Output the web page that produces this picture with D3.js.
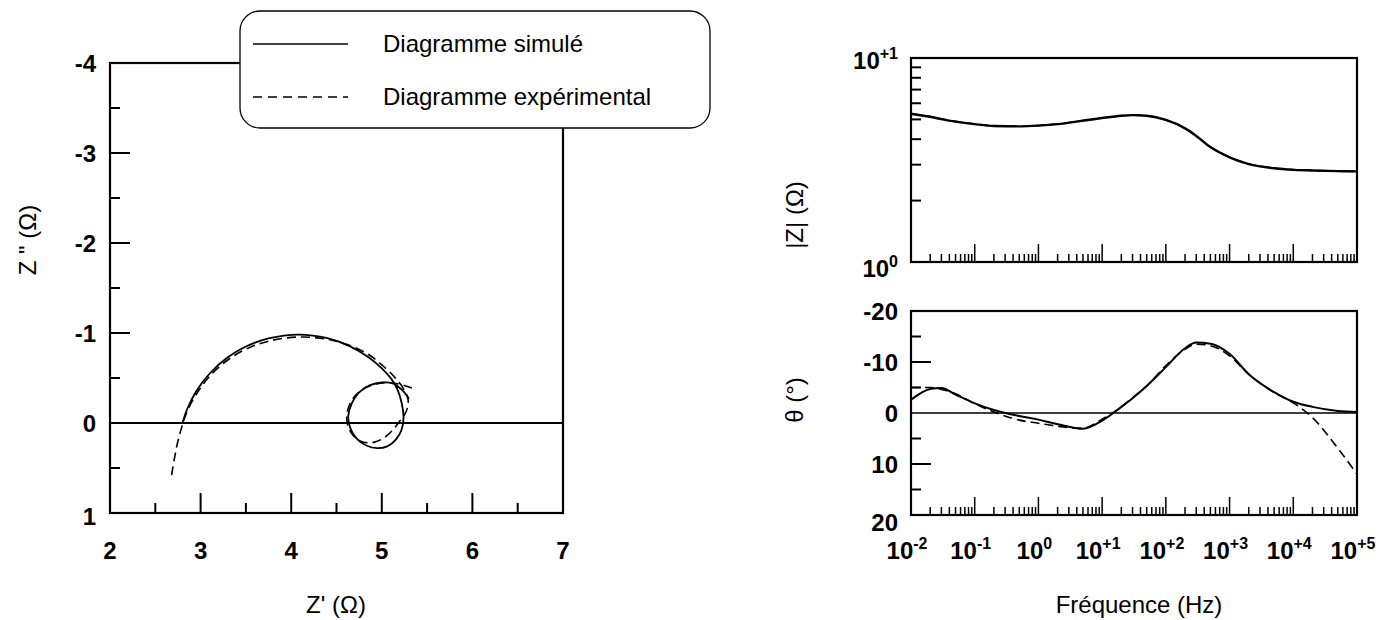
<!DOCTYPE html>
<html><head><meta charset="utf-8">
<script src="https://cdn.jsdelivr.net/npm/d3@7"></script>
<style>
body{margin:0;background:#fff}
svg{display:block}
text{font-family:Arial,"Liberation Sans",Helvetica,sans-serif;fill:#000}
</style>
</head><body>
<svg id="c" width="1382" height="620"></svg>
<script>
// ---------- DATA ----------
// Nyquist plot
const nyqXTicks = [2, 3, 4, 5, 6, 7];
const nyqYTicks = [-4, -3, -2, -1, 0, 1];
const simZre = [2.80, 2.85, 2.95, 3.10, 3.30, 3.50, 3.75, 4.08, 4.40, 4.65, 4.85, 5.00, 5.10, 5.17, 5.22, 5.24, 5.22, 5.16, 5.06, 4.95, 4.83, 4.72, 4.65, 4.63, 4.67, 4.75, 4.87, 5.00, 5.12, 5.22, 5.30];
const simZim = [0.00, -0.15, -0.35, -0.55, -0.73, -0.85, -0.94, -0.983, -0.943, -0.852, -0.733, -0.607, -0.497, -0.38, -0.22, -0.06, 0.07, 0.18, 0.26, 0.28, 0.25, 0.17, 0.05, -0.08, -0.22, -0.34, -0.42, -0.45, -0.44, -0.37, -0.27];
const expZre = [2.68, 2.71, 2.75, 2.80, 2.86, 2.96, 3.10, 3.30, 3.50, 3.75, 4.08, 4.40, 4.65, 4.87, 5.03, 5.15, 5.24, 5.29, 5.27, 5.19, 5.10, 5.00, 4.88, 4.76, 4.67, 4.62, 4.62, 4.68, 4.78, 4.92, 5.07, 5.20, 5.30, 5.38];
const expZim = [0.58, 0.40, 0.20, 0.02, -0.15, -0.33, -0.52, -0.70, -0.82, -0.91, -0.955, -0.93, -0.86, -0.75, -0.62, -0.50, -0.38, -0.26, -0.13, -0.01, 0.10, 0.18, 0.22, 0.20, 0.12, 0.01, -0.13, -0.27, -0.37, -0.43, -0.45, -0.43, -0.40, -0.37];

// Bode plots
const freq = [0.01, 0.02, 0.03, 0.05, 0.1, 0.2, 0.5, 1, 2, 5, 10, 20, 30, 50, 100, 200, 300, 500, 1000, 2000, 5000, 10000, 20000, 50000, 100000];
const modSim = [5.33, 5.15, 5.02, 4.88, 4.74, 4.64, 4.62, 4.66, 4.74, 4.93, 5.08, 5.21, 5.25, 5.21, 4.97, 4.52, 4.15, 3.66, 3.26, 3.02, 2.88, 2.83, 2.81, 2.79, 2.78];
const modExp = [5.33, 5.16, 5.03, 4.89, 4.75, 4.65, 4.63, 4.67, 4.75, 4.93, 5.08, 5.21, 5.25, 5.21, 4.97, 4.53, 4.16, 3.67, 3.27, 3.03, 2.89, 2.84, 2.81, 2.79, 2.78];
const phaseSim = [-2.6, -4.7, -4.9, -3.6, -1.9, -0.6, 0.6, 1.3, 2.2, 3.1, 1.5, -1.2, -2.9, -5.3, -9.0, -12.7, -13.8, -13.6, -11.6, -7.6, -4.1, -2.2, -1.2, -0.4, -0.2];
const phaseExp = [-5.0, -5.0, -4.6, -3.8, -1.8, -0.2, 1.4, 2.0, 2.6, 3.0, 1.2, -1.2, -3.0, -5.3, -9.3, -12.5, -13.5, -13.2, -11.2, -7.6, -4.0, -2.0, 0.9, 6.9, 12.0];
const decades = [-2, -1, 0, 1, 2, 3, 4, 5];
const decadeLabels = ["-2", "-1", "0", "+1", "+2", "+3", "+4", "+5"];
const modTicks = [1, 10];
const modTickLabels = ["0", "+1"];
const phaseTicks = [-20, -10, 0, 10, 20];

const legendLabels = ["Diagramme simulé", "Diagramme expérimental"];

// ---------- DRAW ----------
const svg = d3.select("#c");
const LW = 2.2;
const TF = 24;   // tick font
const SF = 16;   // superscript font

// ===== Nyquist =====
const nx = d3.scaleLinear().domain([2, 7]).range([110, 563]);
const ny = d3.scaleLinear().domain([-4, 1]).range([63, 513]);

const g1 = svg.append("g");
g1.append("rect").attr("x", nx(2)).attr("y", ny(-4))
  .attr("width", nx(7) - nx(2)).attr("height", ny(1) - ny(-4))
  .attr("fill", "none").attr("stroke", "#000").attr("stroke-width", LW);
g1.append("line").attr("x1", nx(2)).attr("x2", nx(7)).attr("y1", ny(0)).attr("y2", ny(0))
  .attr("stroke", "#000").attr("stroke-width", 2);
const yt = d3.range(-4, 1.01, 0.5);
g1.selectAll(".nyt").data(yt).join("line")
  .attr("x1", nx(2)).attr("x2", d => nx(2) + (Number.isInteger(d) ? 20 : 10))
  .attr("y1", d => ny(d)).attr("y2", d => ny(d))
  .attr("stroke", "#000").attr("stroke-width", 2);
const xt = d3.range(2, 7.01, 0.5);
g1.selectAll(".nxt").data(xt).join("line")
  .attr("x1", d => nx(d)).attr("x2", d => nx(d))
  .attr("y1", ny(1)).attr("y2", d => ny(1) - (Number.isInteger(d) ? 20 : 10))
  .attr("stroke", "#000").attr("stroke-width", 2);
g1.selectAll(".nyl").data(nyqYTicks).join("text")
  .attr("x", 96).attr("y", d => ny(d) + (d === 1 ? 3 : 0)).attr("dy", "0.36em")
  .attr("text-anchor", "end").attr("font-size", TF).attr("font-weight", "bold")
  .text(d => d);
g1.selectAll(".nxl").data(nyqXTicks).join("text")
  .attr("x", d => nx(d)).attr("y", 559)
  .attr("text-anchor", "middle").attr("font-size", TF).attr("font-weight", "bold")
  .text(d => d);
g1.append("text").attr("x", 336).attr("y", 613).attr("text-anchor", "middle")
  .attr("font-size", 24).text("Z' (Ω)");
g1.append("text").attr("transform", "translate(36,240) rotate(-90)")
  .attr("text-anchor", "middle").attr("font-size", 24).text('Z " (Ω)');

const nline = d3.line().x(d => nx(d[0])).y(d => ny(d[1])).curve(d3.curveCatmullRom);
g1.append("path").datum(expZre.map((v, i) => [v, expZim[i]])).attr("d", nline)
  .attr("fill", "none").attr("stroke", "#000").attr("stroke-width", 1.6).attr("stroke-dasharray", "9,5");
g1.append("path").datum(simZre.map((v, i) => [v, simZim[i]])).attr("d", nline)
  .attr("fill", "none").attr("stroke", "#000").attr("stroke-width", 1.8);

// legend
const lg = svg.append("g");
lg.append("rect").attr("x", 240).attr("y", 11).attr("width", 470).attr("height", 117)
  .attr("rx", 20).attr("ry", 20).attr("fill", "#fff").attr("stroke", "#000").attr("stroke-width", 1.3);
const legY = [44, 97];
lg.selectAll(".ll").data(legendLabels).join("line")
  .attr("x1", 253).attr("x2", 348).attr("y1", (d, i) => legY[i]).attr("y2", (d, i) => legY[i])
  .attr("stroke", "#000").attr("stroke-width", 1.6)
  .attr("stroke-dasharray", (d, i) => i === 0 ? null : "9,6");
lg.selectAll(".lt").data(legendLabels).join("text")
  .attr("x", 383).attr("y", (d, i) => legY[i]).attr("dy", "0.35em")
  .attr("font-size", 24).text(d => d);

// ===== Bode =====
const bx = d3.scaleLog().domain([1e-2, 1e5]).range([911, 1357]);
const my = d3.scaleLog().domain([1, 10]).range([262, 58]);
const py = d3.scaleLinear().domain([-20, 20]).range([311, 515]);

function logXTicks(g, yBase) {
  const ticks = [];
  for (let e = -2; e < 5; e++) for (let m = 1; m < 10; m++) ticks.push({v: m * Math.pow(10, e), major: m === 1});
  ticks.push({v: 1e5, major: true});
  g.selectAll(null).data(ticks).join("line")
    .attr("x1", d => bx(d.v)).attr("x2", d => bx(d.v))
    .attr("y1", yBase).attr("y2", d => yBase - (d.major ? 18 : 8))
    .attr("stroke", "#000").attr("stroke-width", 1.5);
}

// top: |Z|
const g2 = svg.append("g");
g2.append("rect").attr("x", bx(1e-2)).attr("y", my(10)).attr("width", bx(1e5) - bx(1e-2))
  .attr("height", my(1) - my(10)).attr("fill", "none").attr("stroke", "#000").attr("stroke-width", LW);
logXTicks(g2, my(1));
g2.selectAll(null).data([2, 3, 4, 5, 6, 7, 8, 9]).join("line")
  .attr("x1", bx(1e-2)).attr("x2", bx(1e-2) + 10)
  .attr("y1", d => my(d)).attr("y2", d => my(d)).attr("stroke", "#000").attr("stroke-width", 2);
const ml = g2.selectAll(null).data(modTicks).join("text")
  .attr("x", 898).attr("y", d => my(d) + (d === 10 ? 11 : 15))
  .attr("text-anchor", "end").attr("font-size", TF).attr("font-weight", "bold");
ml.append("tspan").text("10");
ml.append("tspan").attr("dy", -10).attr("font-size", SF).text((d, i) => modTickLabels[i]);
g2.append("text").attr("transform", "translate(803,215) rotate(-90)")
  .attr("text-anchor", "middle").attr("font-size", 24).text("|Z| (Ω)");
const mline = d3.line().x(d => bx(d[0])).y(d => my(d[1])).curve(d3.curveMonotoneX);
g2.append("path").datum(freq.map((f, i) => [f, modExp[i]])).attr("d", mline)
  .attr("fill", "none").attr("stroke", "#000").attr("stroke-width", 1.6).attr("stroke-dasharray", "9,5");
g2.append("path").datum(freq.map((f, i) => [f, modSim[i]])).attr("d", mline)
  .attr("fill", "none").attr("stroke", "#000").attr("stroke-width", 2.4);

// bottom: phase
const g3 = svg.append("g");
g3.append("rect").attr("x", bx(1e-2)).attr("y", py(-20)).attr("width", bx(1e5) - bx(1e-2))
  .attr("height", py(20) - py(-20)).attr("fill", "none").attr("stroke", "#000").attr("stroke-width", LW);
g3.append("line").attr("x1", bx(1e-2)).attr("x2", bx(1e5)).attr("y1", py(0)).attr("y2", py(0))
  .attr("stroke", "#000").attr("stroke-width", 1.6);
logXTicks(g3, py(20));
g3.selectAll(null).data([-15, -10, -5, 5, 10, 15]).join("line")
  .attr("x1", bx(1e-2)).attr("x2", d => bx(1e-2) + (d % 10 === 0 ? 20 : 10))
  .attr("y1", d => py(d)).attr("y2", d => py(d)).attr("stroke", "#000").attr("stroke-width", 2);
g3.selectAll(null).data(phaseTicks).join("text")
  .attr("x", 898).attr("y", d => py(d) + (d === 20 ? 7 : 0)).attr("dy", "0.36em")
  .attr("text-anchor", "end").attr("font-size", TF).attr("font-weight", "bold")
  .text(d => d);
g3.append("text").attr("transform", "translate(803,400) rotate(-90)")
  .attr("text-anchor", "middle").attr("font-size", 24).text("θ (°)");
const xl = g3.selectAll(null).data(decades).join("text")
  .attr("x", d => bx(Math.pow(10, d)) - 4).attr("y", 559)
  .attr("text-anchor", "middle").attr("font-size", TF).attr("font-weight", "bold");
xl.append("tspan").text("10");
xl.append("tspan").attr("dy", -10).attr("font-size", SF).text((d, i) => decadeLabels[i]);
g3.append("text").attr("x", 1139).attr("y", 613).attr("text-anchor", "middle")
  .attr("font-size", 24).text("Fréquence (Hz)");
const pline = d3.line().x(d => bx(d[0])).y(d => py(d[1])).curve(d3.curveMonotoneX);
g3.append("path").datum(freq.map((f, i) => [f, phaseExp[i]])).attr("d", pline)
  .attr("fill", "none").attr("stroke", "#000").attr("stroke-width", 1.6).attr("stroke-dasharray", "9,5");
g3.append("path").datum(freq.map((f, i) => [f, phaseSim[i]])).attr("d", pline)
  .attr("fill", "none").attr("stroke", "#000").attr("stroke-width", 2);
</script>
</body></html>
